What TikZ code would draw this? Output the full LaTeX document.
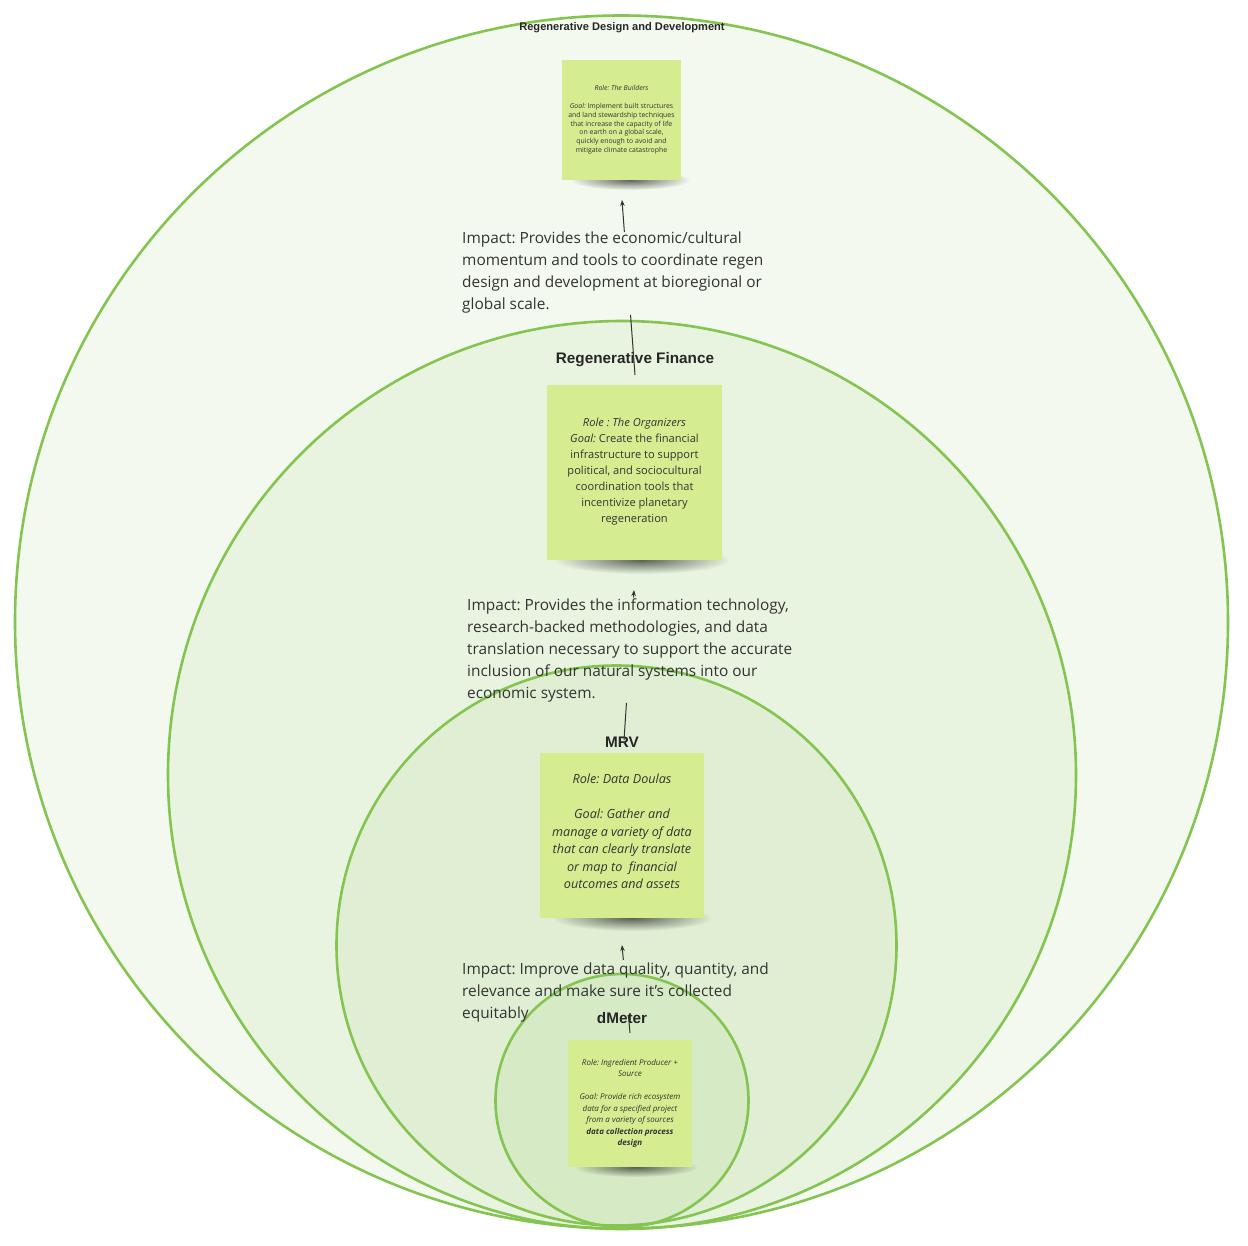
\documentclass[tikz,border=0pt]{standalone}
\usepackage{fontspec}
\setmainfont{Open Sans}
\newfontfamily\titlefont{Liberation Sans}
\usetikzlibrary{calc,arrows.meta,fadings}
\definecolor{ringline}{HTML}{84C450}
\definecolor{fillA}{HTML}{F3F9EE}
\definecolor{fillB}{HTML}{E9F4E0}
\definecolor{fillC}{HTML}{E0EFD4}
\definecolor{fillD}{HTML}{D7EAC6}
\definecolor{notefill}{HTML}{D5ED90}
\definecolor{ink}{HTML}{333333}
\tikzfading[name=softfade, inner color=transparent!0, outer color=transparent!100]
\tikzset{
 ring/.style={draw=ringline, line width=2.6pt},
 sticky/.style={fill=notefill, inner sep=0pt, align=center, text=ink},
 ttl/.style={font=\titlefont\bfseries\fontsize{15.3}{18}\selectfont, text=black!85, inner sep=0pt},
 impact/.style={font=\fontsize{15.4}{22}\selectfont, text=ink, align=left, anchor=north west, inner sep=0pt},
 conn/.style={draw=ink, line width=1pt},
 tip/.style={-{Stealth[length=6pt,width=4.5pt]}},
 nshadow/.style={fill=black, opacity=0.6, path fading=softfade}
}
\begin{document}
\frenchspacing
\begin{tikzpicture}[x=1pt,y=-1pt]
\useasboundingbox[fill=white] (0,0) rectangle (1248,1246);
% ring fills
\fill[fillA] (621.5,622) circle[radius=606.5];
\fill[fillB] (622,775) circle[radius=454];
\fill[fillC] (616.5,945.5) circle[radius=280];
\fill[fillD] (622,1100.5) circle[radius=126.5];
% ring outlines
\draw[ring] (621.5,622) circle[radius=606.5];
\draw[ring] (622,775) circle[radius=454];
\draw[ring] (616.5,945.5) circle[radius=280];
\draw[ring] (622,1100.5) circle[radius=126.5];

% titles
\node[ttl, font=\titlefont\bfseries\fontsize{11.1}{13}\selectfont] (t1) at (622,27.5) {Regenerative Design and Development};
\node[ttl] (t2) at (635,359.5) {Regenerative Finance};
\node[ttl] (t3) at (622,742) {MRV};
\node[ttl] (t4) at (622,1018) {dMeter};

% sticky notes with shadows
\fill[nshadow] (630,180) ellipse[x radius=60, y radius=10];
\node[sticky, minimum width=119pt, minimum height=120pt, font=\fontsize{6.9}{8.8}\selectfont] (n1) at (621.5,120)
 {\textit{Role: The Builders}\\[8.8pt]
  \textit{Goal:} Implement built structures\\
  and land stewardship techniques\\
  that increase the capacity of life\\
  on earth on a global scale,\\
  quickly enough to avoid and\\
  mitigate climate catastrophe};

\fill[nshadow] (642,560) ellipse[x radius=88, y radius=14];
\node[sticky, minimum width=175pt, minimum height=175pt, font=\fontsize{11.1}{16}\selectfont] (n2) at (634.5,472.5)
 {\textit{Role : The Organizers}\\
  \textit{Goal:} Create the financial\\
  infrastructure to support\\
  political, and sociocultural\\
  coordination tools that\\
  incentivize planetary\\
  regeneration\\[-12pt]};

\fill[nshadow] (632,918) ellipse[x radius=80, y radius=13];
\node[sticky, minimum width=164pt, minimum height=165pt, font=\itshape\fontsize{12.6}{17.5}\selectfont] (n3) at (622,835.5)
 {Role: Data Doulas\\[17.5pt]
  Goal: Gather and\\
  manage a variety of data\\
  that can clearly translate\\
  or map to\ \ financial\\
  outcomes and assets\\[-9.5pt]};

\fill[nshadow] (636,1167) ellipse[x radius=62, y radius=10];
\node[sticky, minimum width=124pt, minimum height=127pt, font=\itshape\fontsize{8}{11.5}\selectfont] (n4) at (630,1103.5)
 {Role: Ingredient Producer +\\
  Source\\[11.5pt]
  Goal: Provide rich ecosystem\\
  data for a specified project\\
  from a variety of sources\\
  \textbf{data collection process}\\
  \textbf{design}};

% impact texts
\node[impact] (i1) at (462,232) {Impact: Provides the economic/cultural\\momentum and tools to coordinate regen\\design and development at bioregional or\\global scale.};
\node[impact] (i2) at (467,599) {Impact: Provides the information technology,\\research-backed methodologies, and data\\translation necessary to support the accurate\\inclusion of our natural systems into our\\economic system.};
\node[impact] (i3) at (462,963) {Impact: Improve data quality, quantity, and\\relevance and make sure it{\char"0027}s collected\\equitably};

% connectors (hidden behind the impact texts)
\coordinate (a1s) at (635,375); \coordinate (a1e) at (622,200);
\draw[conn] (a1s) -- ($(a1s)!0.343!(a1e)$);
\draw[conn,tip] ($(a1s)!0.817!(a1e)$) -- (a1e);

\coordinate (a2s) at (624,740); \coordinate (a2e) at (634,590);
\draw[conn] (a2s) -- ($(a2s)!0.247!(a2e)$);
\draw[conn,tip] ($(a2s)!0.95!(a2e)$) -- (a2e);

\coordinate (a3s) at (630,1033); \coordinate (a3e) at (622,945);
\draw[conn] (a3s) -- ($(a3s)!0.2!(a3e)$);
\draw[conn,tip] ($(a3s)!0.83!(a3e)$) -- (a3e);
\end{tikzpicture}
\end{document}
